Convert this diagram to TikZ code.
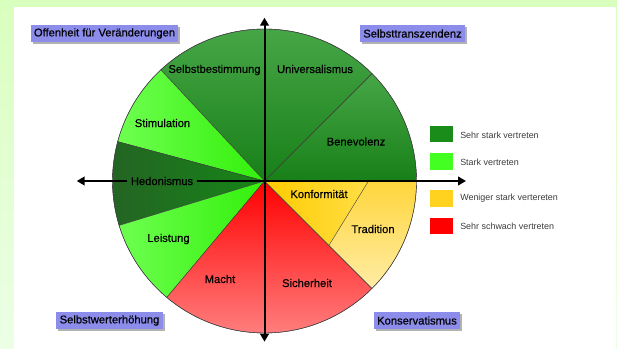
\documentclass[tikz,border=0pt]{standalone}
\usepackage{fontspec}
\setmainfont{Liberation Sans}
\newfontfamily\lblfont[FakeBold=0.4]{Liberation Sans}
\usetikzlibrary{arrows.meta,shadows}

\definecolor{gtop}{RGB}{70,166,70}
\definecolor{gbot}{RGB}{24,128,24}
\definecolor{hleft}{RGB}{36,100,36}
\definecolor{hright}{RGB}{22,134,22}
\definecolor{lgl}{RGB}{110,255,80}
\definecolor{lgr}{RGB}{50,240,10}
\definecolor{rtop}{RGB}{255,0,0}
\definecolor{rbot}{RGB}{255,125,125}
\definecolor{ytop}{RGB}{255,204,0}
\definecolor{ybot}{RGB}{255,222,70}
\definecolor{ttop}{RGB}{255,214,60}
\definecolor{tbot}{RGB}{255,236,165}
\definecolor{catblue}{RGB}{140,140,235}
\definecolor{keytext}{RGB}{60,60,60}

\newcommand{\pie}[2]{(c) -- ++(#1:152) arc[start angle=#1, end angle=#2, radius=152] -- cycle}

\tikzset{
  >={Triangle[length=6pt,width=6.5pt]},
  sec/.style={draw={rgb,255:red,60;green,60;blue,60}, line width=0.3pt},
  axis/.style={line width=1.5pt},
  lbl/.style={inner sep=0.75pt, font=\lblfont\fontsize{8.4}{10}\selectfont},
  cat/.style={fill=catblue, inner xsep=2.5pt, inner ysep=0pt, minimum height=12.75pt,
    font=\lblfont\fontsize{8.4}{10}\selectfont,
    drop shadow={shadow xshift=1.5pt, shadow yshift=-1.8pt, opacity=.6}},
  key/.style={minimum width=17pt, minimum height=12.2pt, inner sep=0pt},
  keytxt/.style={anchor=west, inner sep=0.75pt, text=keytext, font=\fontsize{6.7}{8}\selectfont}
}

\begin{document}
\begin{tikzpicture}[x=0.75pt,y=0.75pt,yscale=-1,xscale=1]
% page
\shade [top color={rgb,255:red,217;green,255;blue,190}, bottom color={rgb,255:red,236;green,255;blue,230}] (0,0) rectangle (617,349);
\fill [white] (14,7.5) rectangle (615.5,349);
\coordinate (c) at (264.5,181);
% sectors
\shade [sec, top color=gtop, bottom color=gbot] \pie{0}{-45};
\shade [sec, top color=gtop, bottom color=gbot] \pie{-45}{-90};
\shade [sec, top color=gtop, bottom color=gbot] \pie{-90}{-133};
\shade [sec, left color=lgl, right color=lgr] \pie{-133}{-165};
\shade [sec, left color=hleft, right color=hright] \pie{-165}{-197};
\shade [sec, left color=lgl, right color=lgr] \pie{-197}{-230};
\shade [sec, top color=rtop, bottom color=rbot] \pie{-230}{-270};
\shade [sec, top color=rtop, bottom color=rbot] \pie{-270}{-315};
\shade [sec, top color=ttop, bottom color=tbot] \pie{-315}{-360};
\shade [sec, left color=ytop, right color=ybot] (c) -- (368.5,181) -- (329,245.3) -- cycle;
\draw [sec] (c) circle [radius=152];
% labels
\draw (214.5,70) node [lbl] (sbs) {Selbstbestimmung};
\draw (315,69) node [lbl] (uni) {Universalismus};
\draw (162.5,123) node [lbl] (sti) {Stimulation};
\draw (356,141.5) node [lbl] (ben) {Benevolenz};
\draw (162,181) node [lbl, inner xsep=2.5pt] (hed) {Hedonismus};
\draw (319,194) node [lbl] (kfm) {Konformität};
\draw (373,229) node [lbl] (tra) {Tradition};
\draw (168.5,239) node [lbl] (lei) {Leistung};
\draw (220,279) node [lbl] (mac) {Macht};
\draw (307,283) node [lbl] (sih) {Sicherheit};
% axes
\coordinate (xl) at (76.7,181);
\coordinate (xr) at (466,181);
\coordinate (yt) at (264.5,17.7);
\coordinate (yb) at (264.5,341.7);
\draw [axis, ->] (hed.west) -- (xl);
\draw [axis, ->] (hed.east) -- (xr);
\draw [axis, <->] (yb) -- (yt);
% value groups
\draw (104.5,33.5) node [cat] (ofv) {Offenheit für Veränderungen};
\draw (412.5,33.5) node [cat] (stz) {Selbsttranszendenz};
\draw (109.5,320.5) node [cat] (swe) {Selbstwerterhöhung};
\draw (417,320.5) node [cat] (kon) {Konservatismus};
% legend
\draw (441.5,134) node [key, fill={rgb,255:red,26;green,140;blue,26}] (k1) {};
\draw (441.5,161.5) node [key, fill={rgb,255:red,68;green,255;blue,34}] (k2) {};
\draw (441.5,198.5) node [key, fill={rgb,255:red,255;green,210;blue,31}] (k3) {};
\draw (441.5,226) node [key, fill={rgb,255:red,255;green,0;blue,0}] (k4) {};
\draw (459,135) node [keytxt] (t1) {Sehr stark vertreten};
\draw (459,162) node [keytxt] (t2) {Stark vertreten};
\draw (459,198.5) node [keytxt] (t3) {Weniger stark vertereten};
\draw (459,226.5) node [keytxt] (t4) {Sehr schwach vertreten};
\end{tikzpicture}
\end{document}
